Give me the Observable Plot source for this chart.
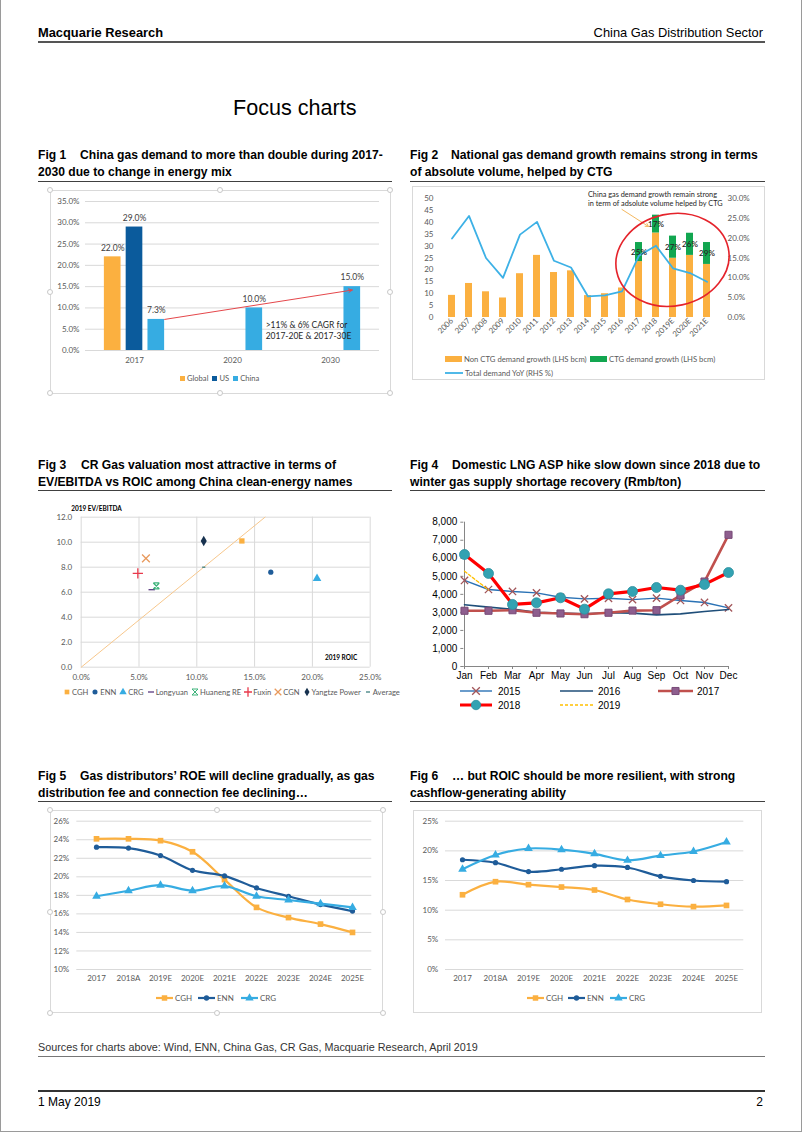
<!DOCTYPE html>
<html><head><meta charset="utf-8">
<script src="https://cdn.jsdelivr.net/npm/d3@7"></script>
<script src="https://cdn.jsdelivr.net/npm/@observablehq/plot@0.6"></script>
<style>
html,body{margin:0;padding:0;background:#fff;}
#page{position:relative;width:802px;height:1133px;overflow:hidden;background:#fff;}
.frame{position:absolute;left:0;top:-2px;width:802px;height:1134px;box-sizing:border-box;border:1px solid #9a9a9a;}
.t{position:absolute;white-space:nowrap;color:#000;}
.nar{font-family:"Liberation Sans Narrow","Arial Narrow",sans-serif;}
.b{font-weight:bold;}
.hr{position:absolute;height:0;}
.box{position:absolute;box-sizing:border-box;border:1px solid #d9d9d9;}
.hd{position:absolute;width:6px;height:6px;margin:-3px 0 0 -3px;border:1px solid #c8c8c8;border-radius:50%;background:#fff;box-sizing:border-box;z-index:5;}
.lg{position:absolute;white-space:nowrap;display:flex;align-items:center;}
.lg svg{display:block;}
.lgi{display:flex;align-items:center;}
.fg{display:inline-block;}
</style></head>
<body><div id="page">
<div class="frame"></div>
<div class="t nar b" style="left:38px;top:24px;font-size:15.5px;line-height:18px">Macquarie Research</div>
<div class="t nar" style="right:39px;top:24px;font-size:15.5px;line-height:18px">China Gas Distribution Sector</div>
<div class="hr" style="left:38px;top:41px;width:727px;border-top:2px solid #555"></div>
<div class="t nar" style="left:233px;top:93px;font-size:26px;line-height:30px">Focus charts</div>

<div class="t nar b" style="left:38px;top:146.5px;font-size:14.6px;line-height:17px"><span class="fg" style="width:42px">Fig 1</span>China gas demand to more than double during 2017-<br>2030 due to change in energy mix</div>
<div class="t nar b" style="left:410px;top:146.5px;font-size:14.6px;line-height:17px"><span class="fg" style="width:41px">Fig 2</span>National gas demand growth remains strong in terms<br>of absolute volume, helped by CTG</div>
<div class="hr" style="left:38px;top:180.5px;width:354px;border-top:1.5px solid #404040"></div>
<div class="hr" style="left:410px;top:180.5px;width:355px;border-top:1.5px solid #404040"></div>

<div class="t nar b" style="left:38px;top:456.5px;font-size:14.6px;line-height:17px"><span class="fg" style="width:43px">Fig 3</span>CR Gas valuation most attractive in terms of<br>EV/EBITDA vs ROIC among China clean-energy names</div>
<div class="t nar b" style="left:410px;top:456.5px;font-size:14.6px;line-height:17px"><span class="fg" style="width:42px">Fig 4</span>Domestic LNG ASP hike slow down since 2018 due to<br>winter gas supply shortage recovery (Rmb/ton)</div>
<div class="hr" style="left:38px;top:489.5px;width:354px;border-top:1.5px solid #404040"></div>
<div class="hr" style="left:410px;top:489.5px;width:355px;border-top:1.5px solid #404040"></div>

<div class="t nar b" style="left:38px;top:767.5px;font-size:14.6px;line-height:17px"><span class="fg" style="width:42px">Fig 5</span>Gas distributors’ ROE will decline gradually, as gas<br>distribution fee and connection fee declining…</div>
<div class="t nar b" style="left:410px;top:767.5px;font-size:14.6px;line-height:17px"><span class="fg" style="width:42px">Fig 6</span>… but ROIC should be more resilient, with strong<br>cashflow-generating ability</div>
<div class="hr" style="left:38px;top:800.5px;width:354px;border-top:1.5px solid #404040"></div>
<div class="hr" style="left:410px;top:800.5px;width:355px;border-top:1.5px solid #404040"></div>

<div class="t nar" style="left:38px;top:1040px;font-size:13px;line-height:14px;color:#333">Sources for charts above: Wind, ENN, China Gas, CR Gas, Macquarie Research, April 2019</div>
<div class="hr" style="left:38px;top:1056px;width:727px;border-top:1px solid #777"></div>
<div class="hr" style="left:38px;top:1090px;width:727px;border-top:2px solid #333"></div>
<div class="t nar" style="left:38px;top:1094px;font-size:14.5px;line-height:16px">1 May 2019</div>
<div class="t nar" style="right:39px;top:1094px;font-size:14.5px;line-height:16px">2</div>

<div class="box" style="left:50px;top:190px;width:341px;height:204px"></div>
<div class="box" style="left:412px;top:186px;width:353px;height:194px"></div>
<div class="box" style="left:50px;top:810px;width:333px;height:203px"></div>
<div class="box" style="left:413px;top:810px;width:349px;height:203px"></div>
</div>
<script>
// ================= DATA =================
// Fig 1
const f1Years = ["2017", "2020", "2030"];
const f1Series = ["Global", "US", "China"];
const f1Global = [22.0, null, null];
const f1US = [29.0, null, null];
const f1China = [7.3, 10.0, 15.0];
const f1Ticks = [0, 5, 10, 15, 20, 25, 30, 35];

// Fig 2
const f2Years = ["2006","2007","2008","2009","2010","2011","2012","2013","2014","2015","2016","2017","2018","2019E","2020E","2021E"];
const f2NonCTG = [9.3, 14.3, 10.8, 8.2, 18.4, 26.1, 18.9, 19.6, 9.2, 10.0, 12.4, 23.5, 35.5, 24.9, 26.1, 22.3];
const f2CTG = [0, 0, 0, 0, 0, 0, 0, 0, 0, 0, 0, 8.0, 7.5, 9.3, 9.3, 9.2];
const f2Share = [null, null, null, null, null, null, null, null, null, null, null, "25%", "17%", "27%", "26%", "29%"];
const f2YoY = [19.9, 25.6, 15.0, 10.0, 20.9, 24.1, 14.3, 12.6, 5.3, 5.6, 6.6, 15.6, 18.1, 12.4, 11.2, 9.0];
const f2LeftTicks = [0, 5, 10, 15, 20, 25, 30, 35, 40, 45, 50];
const f2RightTicks = [0, 5, 10, 15, 20, 25, 30];

// Fig 3
const f3Names = ["CGH", "ENN", "CRG", "Longyuan", "Huaneng RE", "Fuxin", "CGN", "Yangtze Power", "Average"];
const f3ROIC = [13.9, 16.4, 20.4, 6.1, 6.5, 4.9, 5.6, 10.6, 10.6];
const f3EV = [10.1, 7.6, 7.1, 6.2, 6.5, 7.5, 8.7, 10.1, 8.0];
const f3Diagonal = [[0, 0], [15.9, 12]];
const f3XTicks = [0, 5, 10, 15, 20, 25];
const f3YTicks = [0, 2, 4, 6, 8, 10, 12];

// Fig 4
const f4Months = ["Jan","Feb","Mar","Apr","May","Jun","Jul","Aug","Sep","Oct","Nov","Dec"];
const f4Y2015 = [4770, 4270, 4160, 4080, 3840, 3750, 3780, 3710, 3790, 3660, 3550, 3250];
const f4Y2016 = [3420, 3290, 3180, 3010, 2960, 2920, 2980, 2960, 2860, 2920, 3050, 3160];
const f4Y2017 = [3090, 3090, 3120, 2980, 2940, 2900, 2980, 3100, 3120, 3940, 4710, 7300];
const f4Y2018 = [6210, 5160, 3440, 3530, 3810, 3180, 4030, 4160, 4380, 4230, 4550, 5210];
const f4Y2019 = [5280, 4250];
const f4Ticks = [0, 1000, 2000, 3000, 4000, 5000, 6000, 7000, 8000];

// Fig 5 (ROE, %)
const f5Cats = ["2017","2018A","2019E","2020E","2021E","2022E","2023E","2024E","2025E"];
const f5CGH = [24.1, 24.1, 23.9, 22.7, 19.7, 16.7, 15.6, 14.9, 14.0];
const f5ENN = [23.2, 23.1, 22.3, 20.7, 20.1, 18.8, 17.9, 17.0, 16.3];
const f5CRG = [17.9, 18.5, 19.1, 18.5, 19.0, 17.9, 17.5, 17.1, 16.7];
const f5Ticks = [10, 12, 14, 16, 18, 20, 22, 24, 26];

// Fig 6 (ROIC, %)
const f6Cats = ["2017","2018A","2019E","2020E","2021E","2022E","2023E","2024E","2025E"];
const f6CGH = [12.6, 14.8, 14.3, 13.9, 13.4, 11.8, 11.0, 10.6, 10.8];
const f6ENN = [18.5, 18.0, 16.5, 16.9, 17.5, 17.2, 15.7, 15.0, 14.8];
const f6CRG = [16.9, 19.3, 20.4, 20.2, 19.5, 18.4, 19.2, 19.9, 21.5];
const f6Ticks = [0, 5, 10, 15, 20, 25];

// ================= HELPERS =================
const page = document.getElementById("page");
const LATO = "Lato, 'Open Sans', sans-serif";
const ARIAL = "'Liberation Sans', Arial, sans-serif";
function mount(node, left, top) {
  node.style.position = "absolute"; node.style.left = left + "px"; node.style.top = top + "px";
  page.appendChild(node); return node;
}
const baseStyle = (ff, fs, col) => ({fontFamily: ff, fontSize: fs + "px", color: col, background: "transparent", overflow: "visible"});
function legendItem(left, cy, swatch, label, font, color) {
  const d = document.createElement("div");
  d.className = "lg";
  d.style.left = left + "px"; d.style.top = (cy - 8) + "px"; d.style.height = "16px";
  d.style.font = font; d.style.color = color || "#595959";
  d.innerHTML = swatch + `<span>${label}</span>`;
  page.appendChild(d);
}
function legendRow(left, cy, items, font, gap, color) {
  const d = document.createElement("div");
  d.className = "lg";
  d.style.left = left + "px"; d.style.top = (cy - 8) + "px"; d.style.height = "16px";
  d.style.font = font; d.style.color = color || "#595959"; d.style.gap = gap + "px";
  d.innerHTML = items.map(([sw, lab]) => `<div class="lgi">${sw}<span>${lab}</span></div>`).join("");
  page.appendChild(d);
}
function handles(l, t, w, h) {
  [[0, 0], [0.5, 0], [1, 0], [0, 0.5], [1, 0.5], [0, 1], [0.5, 1], [1, 1]].forEach(([a, b]) => {
    const d = document.createElement("div"); d.className = "hd";
    d.style.left = (l + a * w) + "px"; d.style.top = (t + b * h) + "px"; page.appendChild(d);
  });
}
const rectSw = (c, w, h, gap) => `<svg width="${w}" height="${h}" style="margin-right:${gap}px"><rect width="${w}" height="${h}" fill="${c}"/></svg>`;
function lineSw(c, w, sw, gap, marker, dash) {
  const h = 12;
  return `<svg width="${w}" height="${h}" style="margin-right:${gap}px"><line x1="0" x2="${w}" y1="${h/2}" y2="${h/2}" stroke="${c}" stroke-width="${sw}" ${dash ? `stroke-dasharray="${dash}"` : ""}/>${marker ? `<g transform="translate(${w/2},${h/2})">${marker}</g>` : ""}</svg>`;
}
function symSw(path, fill, stroke, sw, gap) {
  return `<svg width="8" height="10" style="margin-right:${gap}px"><path transform="translate(4,5)" d="${path}" fill="${fill}" stroke="${stroke}" stroke-width="${sw}"/></svg>`;
}
const dashSym = {draw(ctx, size) { const r = Math.sqrt(size / Math.PI); ctx.moveTo(-r, 0); ctx.lineTo(r, 0); }};
const hourSym = {draw(ctx, size) { const r = Math.sqrt(size / Math.PI);
  ctx.moveTo(-r, -r); ctx.lineTo(r, r); ctx.moveTo(r, -r); ctx.lineTo(-r, r);
  ctx.moveTo(-r, -r); ctx.lineTo(r, -r); ctx.moveTo(-r, r); ctx.lineTo(r, r); }};

// ================= FIG 1 =================
{
  const arrays = [f1Global, f1US, f1China];
  const rows = [];
  f1Years.forEach((yr, gi) => f1Series.forEach((s, si) => { const v = arrays[si][gi]; if (v != null) rows.push({gi, si, s, v}); }));
  const step = 0.2224, half = 0.085;
  const xc = d => d.gi + 0.5 + (d.si - 1) * step;
  const colors = ["#FBB040", "#0B5B9C", "#36ACE2"];
  const fig = Plot.plot({
    width: 341, height: 204, marginLeft: 35, marginRight: 12, marginTop: 11, marginBottom: 44,
    style: baseStyle(LATO, 8, "#595959"),
    x: {domain: [0, 3], axis: null},
    y: {domain: [0, 35], axis: null},
    color: {domain: f1Series, range: colors},
    marks: [
      Plot.ruleY(f1Ticks, {stroke: "#d9d9d9"}),
      Plot.axisY(f1Ticks, {tickSize: 0, tickPadding: 6, tickFormat: d => d.toFixed(1) + "%", label: null}),
      Plot.axisX(f1Years.map((_, i) => i + 0.5), {tickSize: 0, tickPadding: 7, tickFormat: t => f1Years[Math.round(t - 0.5)], label: null}),
      Plot.rect(rows, {x1: d => xc(d) - half, x2: d => xc(d) + half, y1: 0, y2: "v", fill: "s"}),
      Plot.text(rows, {x: xc, y: "v", text: d => d.v.toFixed(1) + "%", dy: -9, fill: "#404040", fontSize: 8.5}),
      Plot.arrow([0], {x1: () => xc({gi: 0, si: 2}) + half, y1: () => f1China[0], x2: () => xc({gi: 2, si: 2}), y2: () => f1China[2] - 0.8,
        stroke: "#E5474B", strokeWidth: 1, headLength: 6, headAngle: 50}),
      Plot.text([">11% & 6% CAGR for\n2017-20E & 2017-30E"], {x: () => xc({gi: 1, si: 2}) + half, y: () => 4.8, text: d => d,
        textAnchor: "start", dx: 3, lineHeight: 1.35, fill: "#262626", fontSize: 8.5})
    ]
  });
  mount(fig, 50, 190);
  legendRow(180, 378, [[rectSw(colors[0], 5, 5, 2), "Global"], [rectSw(colors[1], 5, 5, 2), "US"], [rectSw(colors[2], 5, 5, 2), "China"]], "7.6px " + LATO, 4);
  handles(50, 190, 340, 203);
}

// ================= FIG 2 =================
{
  const types = ["Non CTG demand growth (LHS bcm)", "CTG demand growth (LHS bcm)"];
  const rows = [];
  f2Years.forEach((yr, i) => { rows.push({year: yr, type: types[0], v: f2NonCTG[i]}); rows.push({year: yr, type: types[1], v: f2CTG[i]}); });
  const k = 50 / 30;
  const labels = f2Years.map((yr, i) => ({year: yr, y: f2NonCTG[i] + f2CTG[i] / 2, t: f2Share[i]})).filter(d => d.t);
  const line = f2Years.map((yr, i) => ({year: yr, v: f2YoY[i] * k}));
  const colors = ["#FBB040", "#12A650"];
  const fig = Plot.plot({
    width: 353, height: 162, marginLeft: 24, marginRight: 42, marginTop: 12, marginBottom: 31,
    style: baseStyle(LATO, 8, "#595959"),
    x: {domain: f2Years, paddingInner: 0.56, paddingOuter: 0.5, axis: null},
    y: {domain: [0, 50], axis: null},
    color: {domain: types, range: colors},
    marks: [
      Plot.axisY(f2LeftTicks, {anchor: "left", tickSize: 0, tickPadding: 3, label: null}),
      Plot.axisY(f2RightTicks.map(t => t * k), {anchor: "right", tickSize: 0, tickPadding: 4, tickFormat: d => (d / k).toFixed(1) + "%", label: null}),
      Plot.axisX({tickSize: 0, tickPadding: 2, tickRotate: -45, label: null, fontSize: 7.8}),
      Plot.barY(rows, {x: "year", y: "v", fill: "type"}),
      Plot.line(line, {x: "year", y: "v", stroke: "#3DB1E6", strokeWidth: 1.8}),
      Plot.text(labels, {x: "year", y: "y", text: "t", fill: "#262626", fontSize: 8, fontWeight: 600}),
      Plot.arrow([0], {x1: () => "2016", y1: () => 45.4, x2: () => "2018", y2: () => 36.2, insetEnd: 9,
        stroke: "#F4B860", strokeWidth: 1, headLength: 5}),
      Plot.text(["China gas demand growth remain strong\nin term of adsolute volume helped by CTG"], {x: () => "2014", y: () => 50, text: d => d,
        textAnchor: "start", lineHeight: 1.18, fontSize: 7.3, fill: "#262626"})
    ]
  });
  const sx = fig.scale("x"), sy = fig.scale("y");
  const cx = sx.apply("2019E") + sx.bandwidth / 2, cy = sy.apply(24);
  d3.select(fig).append("ellipse").attr("cx", cx).attr("cy", cy).attr("rx", 57).attr("ry", 46)
    .attr("transform", `rotate(-12 ${cx} ${cy})`).attr("fill", "none").attr("stroke", "#E5232B").attr("stroke-width", 1.6);
  mount(fig, 412, 186);
  const f = "7.7px " + LATO;
  legendItem(445, 359, rectSw(colors[0], 17, 6, 2), types[0], f);
  legendItem(590, 359, rectSw(colors[1], 17, 6, 2), types[1], f);
  legendItem(445, 372.5, lineSw("#3DB1E6", 18, 1.8, 2), "Total demand YoY (RHS %)", f);
}

// ================= FIG 3 =================
{
  const st = {
    "CGH": {symbol: "square", fill: "#FBB040", r: 3},
    "ENN": {symbol: "circle", fill: "#1F5C99", r: 2.6},
    "CRG": {symbol: "triangle", fill: "#36ACE2", r: 3.2},
    "Longyuan": {symbol: dashSym, stroke: "#5A3A80", r: 3.2},
    "Huaneng RE": {symbol: hourSym, stroke: "#3DB37B", r: 3},
    "Fuxin": {symbol: "plus", stroke: "#E8394B", r: 3.4},
    "CGN": {symbol: "times", stroke: "#E8995C", r: 3.6},
    "Yangtze Power": {symbol: "diamond", fill: "#17324F", r: 3.2},
    "Average": {symbol: dashSym, stroke: "#3E7F7F", r: 1.6}
  };
  const rows = f3Names.map((n, i) => ({n, x: f3ROIC[i], y: f3EV[i]}));
  const dots = f3Names.map(n => {
    const s = st[n];
    return Plot.dot(rows.filter(d => d.n === n), {x: "x", y: "y", symbol: () => s.symbol, r: s.r,
      fill: s.fill || "none", stroke: s.stroke || "none", strokeWidth: s.stroke ? 1.3 : 0});
  });
  const fig = Plot.plot({
    width: 340, height: 190, marginLeft: 40.7, marginRight: 10.3, marginTop: 21.7, marginBottom: 18.3,
    style: baseStyle(LATO, 8, "#595959"),
    x: {domain: [0, 25], axis: null},
    y: {domain: [0, 12], axis: null},
    symbol: {type: "identity"},
    marks: [
      Plot.ruleX(f3XTicks, {stroke: "#d9d9d9"}),
      Plot.ruleY(f3YTicks, {stroke: "#d9d9d9"}),
      Plot.axisX(f3XTicks, {tickSize: 0, tickPadding: 7, tickFormat: d => d.toFixed(1) + "%", label: null}),
      Plot.axisY(f3YTicks, {tickSize: 0, tickPadding: 9, tickFormat: d => d.toFixed(1), label: null}),
      Plot.line(f3Diagonal, {stroke: "#F7C78C", strokeWidth: 1}),
      ...dots,
      Plot.text(["2019 EV/EBITDA"], {frameAnchor: "top-left", text: d => d, dx: -10, dy: -11, textAnchor: "start", fontWeight: "bold", fontSize: 6.5, fill: "#000"}),
      Plot.text(["2019 ROIC"], {frameAnchor: "bottom-right", text: d => d, dx: -13, dy: -7, textAnchor: "end", fontWeight: "bold", fontSize: 6.5, fill: "#000"})
    ]
  });
  mount(fig, 40, 495);
  const sq = d3.symbol(d3.symbolSquare, 22)(), ci = d3.symbol(d3.symbolCircle, 20)(), tr = d3.symbol(d3.symbolTriangle, 24)(),
        di = d3.symbol(d3.symbolDiamond, 22)(), pl = d3.symbol(d3.symbolPlus, 30)(), ti = d3.symbol(d3.symbolTimes, 30)();
  legendRow(63, 691.7, [
    [symSw(sq, "#FBB040", "none", 0, 1), "CGH"],
    [symSw(ci, "#1F5C99", "none", 0, 1), "ENN"],
    [symSw(tr, "#36ACE2", "none", 0, 1), "CRG"],
    [symSw("M-3,0L3,0", "none", "#5A3A80", 1.3, 1), "Longyuan"],
    [symSw("M-3,-3L3,3M3,-3L-3,3M-3,-3L3,-3M-3,3L3,3", "none", "#3DB37B", 1, 1), "Huaneng RE"],
    [symSw(pl, "none", "#E8394B", 1.3, 1), "Fuxin"],
    [symSw(ti, "none", "#E8995C", 1.3, 1), "CGN"],
    [symSw(di, "#17324F", "none", 0, 1), "Yangtze Power"],
    [symSw("M-2,0L2,0", "none", "#3E7F7F", 1.3, 1), "Average"]
  ], "7.6px " + LATO, 3);
}

// ================= FIG 4 =================
{
  const mk = (arr) => arr.map((v, i) => ({m: f4Months[i], v}));
  const d15 = mk(f4Y2015), d16 = mk(f4Y2016), d17 = mk(f4Y2017), d18 = mk(f4Y2018), d19 = mk(f4Y2019);
  const fig = Plot.plot({
    width: 360, height: 178, marginLeft: 53.3, marginRight: 41, marginTop: 11.7, marginBottom: 22,
    style: baseStyle(ARIAL, 10, "#000"),
    x: {domain: f4Months, type: "point", padding: 0, axis: null},
    y: {domain: [0, 8000], axis: null},
    marks: [
      Plot.axisY(f4Ticks, {tickSize: 3, tickPadding: 3.5, tickFormat: d3.format(","), label: null, stroke: "#868686", fill: "#000"}),
      Plot.axisX(f4Months, {tickSize: 3, tickPadding: 2, label: null, stroke: "#868686", fill: "#000"}),
      Plot.ruleX([f4Months[0]], {y1: 0, y2: 8000, stroke: "#868686"}),
      Plot.ruleY([0], {stroke: "#868686"}),
      Plot.line(d15, {x: "m", y: "v", stroke: "#2A72B5", strokeWidth: 1.4}),
      Plot.dot(d15, {x: "m", y: "v", symbol: "times", r: 3.4, stroke: "#A2565A", strokeWidth: 1.3}),
      Plot.line(d16, {x: "m", y: "v", stroke: "#1F4E79", strokeWidth: 1.6}),
      Plot.line(d17, {x: "m", y: "v", stroke: "#C0504D", strokeWidth: 2.6}),
      Plot.dot(d17, {x: "m", y: "v", symbol: "square", r: 4, fill: "#8E5E8E", stroke: "#774a77", strokeWidth: 1}),
      Plot.line(d18, {x: "m", y: "v", stroke: "#FF0000", strokeWidth: 3.2}),
      Plot.dot(d18, {x: "m", y: "v", symbol: "circle", r: 5, fill: "#33A2B2", stroke: "#2A8F9E", strokeWidth: 0.8}),
      Plot.line(d19, {x: "m", y: "v", stroke: "#FFC000", strokeWidth: 1.3, strokeDasharray: "3,2"})
    ]
  });
  mount(fig, 410, 510);
  const f = "10px " + ARIAL;
  const ti = d3.symbol(d3.symbolTimes, 40)(), sq = d3.symbol(d3.symbolSquare, 50)(), ci = d3.symbol(d3.symbolCircle, 70)();
  legendItem(460, 691, lineSw("#2A72B5", 32, 1.4, 6, `<path d="${ti}" fill="none" stroke="#A2565A" stroke-width="1.3"/>`), "2015", f, "#000");
  legendItem(560, 691, lineSw("#1F4E79", 33, 1.6, 5), "2016", f, "#000");
  legendItem(658, 691, lineSw("#C0504D", 35, 2.6, 4, `<path d="${sq}" fill="#8E5E8E" stroke="#774a77"/>`), "2017", f, "#000");
  legendItem(460, 705, lineSw("#FF0000", 32, 3, 6, `<path d="${ci}" fill="#33A2B2" stroke="#2A8F9E" stroke-width="0.8"/>`), "2018", f, "#000");
  legendItem(560, 705, lineSw("#FFC000", 33, 1.3, 5, null, "3,2"), "2019", f, "#000");
}

// ================= FIG 5 & 6 =================
function roeChart(cats, series, ticks, yDomain, opts) {
  const marks = [
    Plot.ruleY(ticks, {stroke: "#d9d9d9"}),
    Plot.axisY(ticks, {tickSize: 0, tickPadding: opts.tp, tickFormat: d => d + "%", label: null}),
    Plot.axisX(cats, {tickSize: 0, tickPadding: 6, label: null})
  ];
  series.forEach(s => {
    const rows = s.values.map((v, i) => ({c: cats[i], v}));
    marks.push(Plot.line(rows, {x: "c", y: "v", stroke: s.color, strokeWidth: 2.2, curve: "catmull-rom"}));
    marks.push(Plot.dot(rows, {x: "c", y: "v", symbol: s.symbol, r: s.r, fill: s.color}));
  });
  return Plot.plot({
    width: opts.width, height: 178, marginLeft: opts.ml, marginRight: opts.mr, marginTop: 10.7, marginBottom: 19,
    style: baseStyle(LATO, 8, "#595959"),
    x: {domain: cats, type: "point", padding: 0.5, axis: null},
    y: {domain: yDomain, axis: null},
    marks
  });
}
const roeSeries = (cgh, enn, crg) => [
  {name: "CGH", values: cgh, color: "#FBB040", symbol: "square", r: 3.2},
  {name: "ENN", values: enn, color: "#1F5C99", symbol: "circle", r: 2.6},
  {name: "CRG", values: crg, color: "#36ACE2", symbol: "triangle", r: 3.2}
];
mount(roeChart(f5Cats, roeSeries(f5CGH, f5ENN, f5CRG), f5Ticks, [10, 26], {width: 333, ml: 26.3, mr: 11.7, tp: 7.6}), 50, 810);
mount(roeChart(f6Cats, roeSeries(f6CGH, f6ENN, f6CRG), f6Ticks, [0, 25], {width: 349, ml: 32, mr: 18.7, tp: 7.3}), 413, 810);
handles(50, 810, 333, 203);
{
  const f = "8px " + LATO;
  const sq = d3.symbol(d3.symbolSquare, 30)(), ci = d3.symbol(d3.symbolCircle, 22)(), tr = d3.symbol(d3.symbolTriangle, 30)();
  const legs = [[sq, "#FBB040", "CGH"], [ci, "#1F5C99", "ENN"], [tr, "#36ACE2", "CRG"]];
  const x5 = [156, 198, 241], x6 = [527, 568, 610];
  legs.forEach(([p, c, n], i) => {
    legendItem(x5[i], 997.7, lineSw(c, 17, 2.2, 2, `<path d="${p}" fill="${c}"/>`), n, f);
    legendItem(x6[i], 997.7, lineSw(c, 17, 2.2, 2, `<path d="${p}" fill="${c}"/>`), n, f);
  });
}

// ================= FONT FALLBACK =================
function hasFont(n) {
  const c = document.createElement("canvas").getContext("2d");
  const s = "Macquarie Research 2019 wide text";
  c.font = "40px monospace"; const a = c.measureText(s).width;
  c.font = `40px "${n}", monospace`; return c.measureText(s).width !== a;
}
if (!hasFont("Liberation Sans Narrow") && !hasFont("Arial Narrow")) {
  document.querySelectorAll(".nar").forEach(el => {
    el.style.fontFamily = "'Liberation Sans', Arial, sans-serif";
    el.style.fontSize = (parseFloat(el.style.fontSize) * 0.83) + "px";
  });
}
</script>
</body></html>
